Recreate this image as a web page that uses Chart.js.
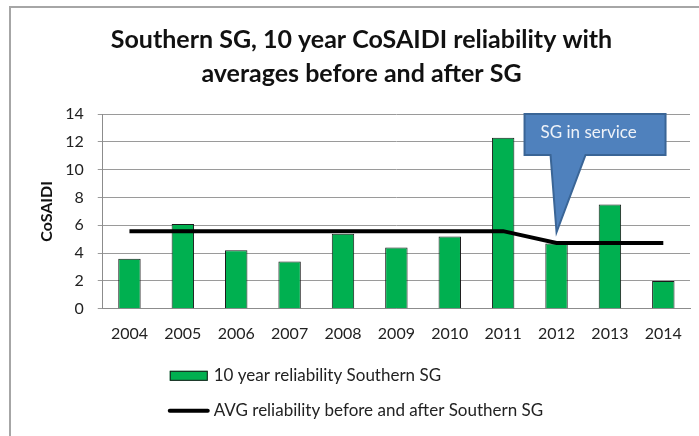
<!DOCTYPE html>
<html>
<head>
<meta charset="utf-8">
<title>Southern SG CoSAIDI</title>
<script src="https://cdn.jsdelivr.net/npm/chart.js@4.4.0/dist/chart.umd.min.js"></script>
<style>
  html, body { margin: 0; padding: 0; background: #fff; }
  #wrap { width: 699px; height: 436px; position: relative; }
</style>
</head>
<body>
<div id="wrap"><canvas id="chart"></canvas></div>
<script>
// Données
var years = ['2004', '2005', '2006', '2007', '2008', '2009', '2010', '2011', '2012', '2013', '2014'];
var reliability = [3.6, 6.1, 4.2, 3.4, 5.4, 4.4, 5.2, 12.3, 4.7, 7.5, 2.0];
var avgBeforeAfter = [5.58, 5.58, 5.58, 5.58, 5.58, 5.58, 5.58, 5.58, 4.73, 4.73, 4.73];
var titleLines = ['Southern SG, 10 year CoSAIDI reliability with', 'averages before and after SG'];
var calloutText = 'SG in service';
var calloutYear = '2012';
var calloutValue = 5.5;

var FONT = 'Lato, "Open Sans", sans-serif';

// Cadre gris du graphique
var framePlugin = {
  id: 'frame',
  beforeDraw: function(chart) {
    var ctx = chart.ctx;
    ctx.save();
    ctx.fillStyle = '#fff';
    ctx.fillRect(0, 0, chart.width, chart.height);
    ctx.strokeStyle = '#a6a6a6';
    ctx.lineWidth = 2;
    ctx.beginPath();
    ctx.moveTo(10, chart.height + 5);
    ctx.lineTo(10, 7);
    ctx.lineTo(chart.width + 5, 7);
    ctx.stroke();
    ctx.restore();
  }
};

// Bulle "SG in service"
var calloutPlugin = {
  id: 'callout',
  afterDatasetsDraw: function(chart) {
    var ctx = chart.ctx;
    var x = chart.scales.x, y = chart.scales.y;
    var tipX = x.getPixelForValue(years.indexOf(calloutYear));
    var tipY = y.getPixelForValue(calloutValue);
    var top = chart.chartArea.top;
    var left = tipX - 32, right = tipX + 109, bottom = top + 41;
    ctx.save();
    ctx.beginPath();
    ctx.moveTo(left, top);
    ctx.lineTo(right, top);
    ctx.lineTo(right, bottom);
    ctx.lineTo(tipX + 29, bottom);
    ctx.lineTo(tipX, tipY);
    ctx.lineTo(tipX - 6, bottom);
    ctx.lineTo(left, bottom);
    ctx.closePath();
    ctx.fillStyle = '#4f81bd';
    ctx.fill();
    ctx.strokeStyle = '#3a6596';
    ctx.lineWidth = 2;
    ctx.lineJoin = 'miter';
    ctx.stroke();
    ctx.fillStyle = '#eef2f8';
    ctx.font = '17px ' + FONT;
    ctx.textBaseline = 'middle';
    ctx.fillText(calloutText, left + 16, top + 19);
    ctx.restore();
  }
};

// Légende en deux lignes sous le graphique
var legendPlugin = {
  id: 'stackedLegend',
  afterDraw: function(chart) {
    var ctx = chart.ctx;
    var area = chart.chartArea;
    var x0 = area.left + 67;
    var rows = [area.bottom + 67, area.bottom + 102];
    ctx.save();
    ctx.font = '17px ' + FONT;
    ctx.textBaseline = 'middle';
    chart.data.datasets.forEach(function(ds, i) {
      var cy = rows[i];
      if (ds.type === 'line') {
        ctx.strokeStyle = ds.borderColor;
        ctx.lineWidth = 4;
        ctx.lineCap = 'round';
        ctx.beginPath();
        ctx.moveTo(x0, cy);
        ctx.lineTo(x0 + 38, cy);
        ctx.stroke();
      } else {
        ctx.fillStyle = ds.backgroundColor;
        ctx.fillRect(x0, cy - 5, 38, 10);
        ctx.strokeStyle = ds.borderColor;
        ctx.lineWidth = 1;
        ctx.strokeRect(x0 + 0.5, cy - 4.5, 37, 9);
      }
      ctx.fillStyle = '#222';
      ctx.fillText(ds.label, x0 + 44, cy);
    });
    ctx.restore();
  }
};

window.addEventListener('load', function() {
  var ctx = document.getElementById('chart').getContext('2d');
  new Chart(ctx, {
    data: {
      labels: years,
      datasets: [{
        type: 'bar',
        label: '10 year reliability Southern SG',
        data: reliability,
        backgroundColor: '#00b050',
        borderColor: '#1a1a1a',
        borderWidth: 1,
        categoryPercentage: 1,
        barPercentage: 0.42,
        order: 1
      }, {
        type: 'line',
        label: 'AVG reliability before and after Southern SG',
        data: avgBeforeAfter,
        borderColor: '#000',
        backgroundColor: '#000',
        borderWidth: 4,
        pointRadius: 0,
        tension: 0,
        order: 0
      }]
    },
    options: {
      responsive: true,
      maintainAspectRatio: false,
      animation: false,
      layout: { padding: { left: 33, right: 9, top: 0, bottom: 86 } },
      plugins: {
        legend: { display: false },
        tooltip: { enabled: false },
        title: {
          display: true,
          text: titleLines,
          color: '#111',
          font: { family: FONT, size: 25, weight: 'bold', lineHeight: 1.36 },
          padding: { top: 23, bottom: 23 }
        }
      },
      scales: {
        x: {
          grid: { display: false },
          border: { display: true, color: '#8c8c8c', width: 1 },
          ticks: { color: '#222', padding: 7, maxRotation: 0, font: { family: FONT, size: 16 } }
        },
        y: {
          min: 0,
          max: 14,
          ticks: { stepSize: 2, color: '#222', padding: 14, font: { family: FONT, size: 16 } },
          grid: { color: '#9a9a9a', tickLength: 5, lineWidth: 1 },
          border: { display: true, color: '#8c8c8c' },
          title: {
            display: true,
            text: 'CoSAIDI',
            color: '#111',
            font: { family: FONT, size: 16, weight: 'bold' },
            padding: { top: 4, bottom: -5 }
          }
        }
      }
    },
    plugins: [framePlugin, calloutPlugin, legendPlugin]
  });
});
</script>
</body>
</html>
